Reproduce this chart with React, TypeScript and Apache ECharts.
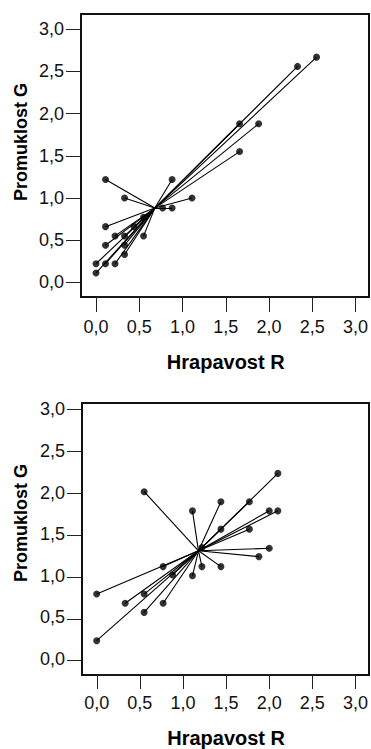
import React, { useEffect, useRef } from "react";
import * as echarts from "echarts";

// Upper panel: roughness R vs. gloss G, each sample tied to the group centroid
const upperR = [2.55, 2.33, 1.66, 1.88, 1.66, 0.11, 0.88, 0.33, 1.11, 0.77, 0.88, 0.11, 0.22, 0.33, 0.55, 0.44, 0.55, 0.11, 0.33, 0.33, 0, 0.11, 0.22, 0];
const upperG = [2.67, 2.56, 1.88, 1.88, 1.55, 1.22, 1.22, 1.0, 1.0, 0.88, 0.88, 0.66, 0.55, 0.55, 0.55, 0.66, 0.77, 0.44, 0.44, 0.33, 0.22, 0.22, 0.22, 0.11];
const upperCentroid = [0.68, 0.88];

// Lower panel
const lowerR = [2.1, 0.55, 1.44, 1.77, 1.11, 2.0, 2.1, 1.44, 1.77, 2.0, 1.22, 1.88, 0.77, 1.22, 1.44, 0.88, 1.11, 0, 0.55, 0.33, 0.77, 0.55, 0];
const lowerG = [2.23, 2.01, 1.89, 1.89, 1.78, 1.78, 1.78, 1.56, 1.56, 1.33, 1.34, 1.23, 1.11, 1.11, 1.11, 1.01, 1.0, 0.78, 0.78, 0.67, 0.67, 0.56, 0.22];
const lowerCentroid = [1.18, 1.3];

const tickValues = [0, 0.5, 1, 1.5, 2, 2.5, 3];
const axisMin = 0;
const axisMax = 3;
const axisStep = 0.5;
const xTitle = "Hrapavost R";
const yTitle = "Promuklost G";

const FONT = "'Liberation Sans', Arial, sans-serif";
const TICK_COLOR = "#222";

const fmt = (v: number) => v.toFixed(1).replace(".", ",");

function pairs(xs: number[], ys: number[]) {
  return xs.map((x, i) => [x, ys[i]]);
}

function spokes(xs: number[], ys: number[], c: number[]) {
  return xs.map((x, i) => ({ coords: [c, [x, ys[i]]] }));
}

const scale = { type: "value", min: axisMin, max: axisMax, interval: axisStep };

// Labelled axes of the two plots
function xAxis(gridIndex: number, offset: number) {
  return {
    ...scale,
    gridIndex,
    position: "bottom",
    offset,
    name: xTitle,
    nameLocation: "middle",
    nameGap: 55,
    nameTextStyle: { fontFamily: FONT, fontSize: 20, fontWeight: "bold", color: "#000" },
    splitLine: { show: false },
    axisLine: { show: false },
    axisTick: { show: false },
    axisLabel: { show: true, formatter: fmt, margin: 21, fontFamily: FONT, fontSize: 18, color: "#111" },
  };
}

function yAxis(gridIndex: number, offset: number) {
  return {
    ...scale,
    gridIndex,
    position: "left",
    offset,
    splitLine: { show: false },
    axisLine: { show: false },
    axisTick: { show: false },
    axisLabel: { show: true, formatter: fmt, margin: 17, fontFamily: FONT, fontSize: 18, color: "#111" },
  };
}

// Narrow strips left of each frame whose split lines act as outward y ticks
function stripAxis(gridIndex: number) {
  return {
    ...scale,
    gridIndex,
    axisLine: { show: false },
    axisTick: { show: false },
    axisLabel: { show: false },
    splitLine: { show: true, showMinLine: true, showMaxLine: true, lineStyle: { color: TICK_COLOR, width: 1, type: "solid" } },
  };
}

function unitAxis(gridIndex: number) {
  return { type: "value", gridIndex, show: false, min: 0, max: 1, splitLine: { show: false } };
}

function frame(id: string, x: number, y: number, width: number, height: number) {
  return {
    id,
    type: "rect",
    shape: { x, y, width, height },
    style: { fill: "none", stroke: "#111", lineWidth: 2 },
    silent: true,
    z: 0,
  };
}

function title(id: string, x: number, y: number) {
  return {
    id,
    type: "text",
    x,
    y,
    rotation: Math.PI / 2,
    style: { text: yTitle, fontFamily: FONT, fontSize: 18, fontWeight: "bold", fill: "#000", textAlign: "center", textVerticalAlign: "middle" },
  };
}

export default function App() {
  const ref = useRef<HTMLDivElement>(null);

  useEffect(() => {
    if (!ref.current) return;
    const chart = echarts.init(ref.current, undefined, { renderer: "svg" });

    chart.setOption({
      animation: false,
      backgroundColor: "#fff",
      grid: [
        // plot areas (value range 0..3)
        { left: 96, top: 29.3, width: 260, height: 253 },
        { left: 96.7, top: 409.3, width: 259, height: 251.4 },
        // y tick strips
        { left: 66, top: 29.3, width: 14, height: 253 },
        { left: 67, top: 409.3, width: 14, height: 251.4 },
      ],
      xAxis: [xAxis(0, 14.4), xAxis(1, 14), unitAxis(2), unitAxis(3)],
      yAxis: [yAxis(0, 15), yAxis(1, 14.7), stripAxis(2), stripAxis(3)],
      graphic: [
        frame("frameUpper", 81, 14, 288, 283),
        frame("frameLower", 82, 403, 287, 272),
        title("titleUpper", 21, 142),
        title("titleLower", 21, 523),
      ],
      series: [
        {
          type: "lines",
          coordinateSystem: "cartesian2d",
          xAxisIndex: 0,
          yAxisIndex: 0,
          data: spokes(upperR, upperG, upperCentroid),
          lineStyle: { color: "#000", width: 1.1, opacity: 1 },
          silent: true,
        },
        {
          type: "scatter",
          xAxisIndex: 0,
          yAxisIndex: 0,
          clip: false,
          data: pairs(upperR, upperG),
          symbol: "circle",
          symbolSize: 7,
          itemStyle: { color: "#000" },
        },
        {
          type: "lines",
          coordinateSystem: "cartesian2d",
          xAxisIndex: 1,
          yAxisIndex: 1,
          data: spokes(lowerR, lowerG, lowerCentroid),
          lineStyle: { color: "#000", width: 1.1, opacity: 1 },
          silent: true,
        },
        {
          type: "scatter",
          xAxisIndex: 1,
          yAxisIndex: 1,
          clip: false,
          data: pairs(lowerR, lowerG),
          symbol: "circle",
          symbolSize: 7,
          itemStyle: { color: "#000" },
        },
      ],
    });

    // Outward x ticks below each frame: one polyline per plot that runs along
    // the frame's bottom edge and drops down at every tick value of the x scale
    const tickRows = [
      { grid: 0, top: 297, len: 15 },
      { grid: 1, top: 675, len: 14 },
    ];
    const tickLines = tickRows.map((row) => {
      const points: number[][] = [];
      tickValues.forEach((v) => {
        const p = chart.convertToPixel({ gridIndex: row.grid }, [v, 0]) as number[];
        const px = Math.round(p[0]) + 0.5;
        points.push([px, row.top], [px, row.top + row.len], [px, row.top]);
      });
      return {
        id: `xticks-${row.grid}`,
        type: "polyline",
        shape: { points },
        style: { stroke: TICK_COLOR, lineWidth: 1, fill: "none" },
        silent: true,
        z: 60,
      };
    });
    chart.setOption({ graphic: tickLines });

    return () => chart.dispose();
  }, []);

  return (
    <div
      ref={ref}
      style={{ position: "absolute", left: 0, top: 0, width: 371, height: 749, background: "#fff" }}
    />
  );
}
